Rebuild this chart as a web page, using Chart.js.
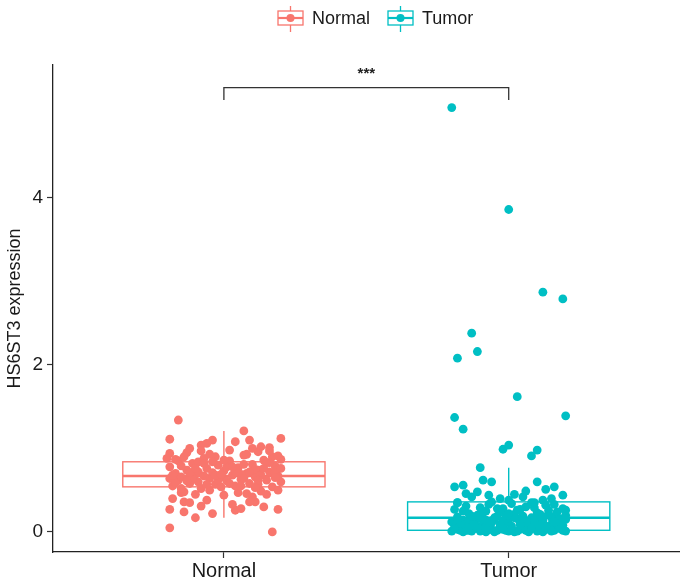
<!DOCTYPE html>
<html>
<head>
<meta charset="utf-8">
<script src="https://cdn.jsdelivr.net/npm/chart.js@4.4.1/dist/chart.umd.min.js"></script>
<style>
  body { margin: 0; background: #fff; }
  #wrap { width: 684px; height: 585px; }
</style>
</head>
<body>
<div id="wrap"><canvas id="chart" width="684" height="585"></canvas></div>
<script>
// categories and colours
const groups = ['Normal', 'Tumor'];
const groupColors = ['#F8766D', '#00BFC4'];
const yTicks = [0, 2, 4];

// box statistics: [Normal, Tumor]
const boxLow = [0.17, 0.0];
const boxQ1 = [0.54, 0.02];
const boxMedian = [0.67, 0.17];
const boxQ3 = [0.84, 0.36];
const boxHigh = [1.21, 0.77];

// significance bracket
const bracketY = 5.32;
const bracketTip = 5.17;
const bracketLabel = '***';

// jittered points (offset from category centre, expression value)
const normalJitter = [-0.16,-0.19,0.07,0.09,0.20,-0.04,-0.08,0.13,0.16,-0.19,0.20,-0.19,-0.19,0.17,0.19,-0.04,0.04,-0.10,-0.14,-0.14,0.11,-0.15,
  -0.19,-0.17,-0.16,-0.18,-0.15,-0.13,-0.12,-0.14,-0.11,-0.10,-0.09,-0.08,-0.07,-0.06,-0.05,-0.04,-0.03,-0.02,-0.01,0.00,
  0.01,0.02,0.03,0.04,0.05,0.06,0.07,0.08,0.09,0.10,0.11,0.12,0.13,0.14,0.15,0.16,0.17,0.18,0.19,0.20,
  -0.19,-0.16,-0.13,-0.10,-0.08,-0.05,-0.03,0.00,0.02,0.05,0.08,0.10,0.12,0.15,0.17,0.19,
  -0.18,-0.12,-0.06,0.03,0.09,0.14,-0.14,-0.09,-0.04,0.01,0.06,0.11,0.16,
  -0.17,-0.11,-0.07,-0.02,0.04,0.07,0.13,0.18,-0.15,-0.01,0.12,
  -0.06,0.04,0.10,-0.12,0.16,-0.20,0.20,-0.08,0.06,
  -0.18,-0.15,-0.12,-0.09,-0.06,-0.03,0.00,0.03,0.06,0.09,0.12,0.15,0.18,
  -0.17,-0.13,-0.10,-0.05,-0.01,0.02,0.07,0.11,0.14,0.19,-0.07,0.08];
const normalExpr = [1.34,1.11,1.21,1.10,1.12,1.10,1.04,1.02,1.01,0.94,0.87,0.27,0.05,0.00,0.27,0.22,0.26,0.17,0.24,0.36,0.36,0.47,
  0.78,0.70,0.62,0.55,0.66,0.74,0.58,0.48,0.82,0.69,0.60,0.52,0.88,0.76,0.64,0.71,0.57,0.80,0.66,0.73,
  0.61,0.85,0.68,0.55,0.77,0.63,0.92,0.70,0.58,0.81,0.66,0.74,0.49,0.86,0.62,0.72,0.54,0.79,0.67,0.60,
  0.64,0.85,0.95,0.45,0.97,0.50,0.90,0.44,0.98,0.47,0.93,0.42,0.96,0.45,0.90,0.50,
  0.40,0.35,0.38,0.33,0.36,0.30,0.90,0.72,0.84,0.78,0.69,0.75,0.83,
  0.59,0.63,0.67,0.62,0.72,0.64,0.68,0.71,0.52,0.54,0.57,
  1.06,1.08,1.00,1.00,0.97,0.88,0.76,0.31,0.28,
  0.68,0.79,0.71,0.84,0.57,0.68,0.86,0.78,0.55,0.72,0.62,0.83,0.65,
  0.87,0.61,0.76,0.93,0.69,0.58,0.81,0.53,0.76,0.91,0.82,0.46];

const tumorJitter = [-0.20,0.00,0.12,0.19,-0.13,-0.18,-0.11,0.03,-0.19,-0.16,0.20,-0.02,0.00,0.08,0.10,
  -0.19,-0.16,-0.11,-0.13,-0.18,-0.10,-0.09,-0.06,0.06,0.10,0.13,0.16,0.19,0.12,0.09,0.20,-0.03,0.02,0.05,-0.15,0.15,-0.07,0.00,
  -0.20,-0.18,-0.16,-0.14,-0.12,-0.10,-0.08,-0.06,-0.04,-0.02,0.00,0.02,0.04,0.06,0.08,0.10,0.12,0.14,0.16,0.18,0.20,
  -0.19,-0.15,-0.11,-0.07,-0.03,0.01,0.05,0.09,0.13,0.17,0.19,-0.17,-0.13,-0.09,-0.05,-0.01,0.03,0.07,0.11,0.15,
  -0.18,-0.06,0.04,0.16,-0.10,0.08,-0.02,0.18,-0.14,
  -0.20,-0.18,-0.16,-0.14,-0.12,-0.10,-0.08,-0.06,-0.04,-0.02,0.00,0.02,0.04,0.06,0.08,0.10,0.12,0.14,0.16,0.18,0.20,
  -0.19,-0.15,-0.11,-0.07,-0.03,0.01,0.05,0.09,0.13,0.17,-0.17,-0.13,-0.09,-0.05,-0.01,0.03,0.07,0.11,0.15,0.19,
  -0.08,0.06,-0.14,0.12,
  -0.19,-0.17,-0.15,-0.13,-0.11,-0.09,-0.07,-0.05,-0.03,-0.01,0.01,0.03,0.05,0.07,0.09,0.11,0.13,0.15,0.17,0.19,
  -0.18,-0.14,-0.10,-0.06,-0.02,0.02,0.06,0.10,0.14,0.18,-0.16,-0.12,-0.08,-0.04,0.00,0.04,0.08,0.12,0.16,0.20];
const tumorExpr = [5.08,3.86,2.87,2.79,2.38,2.08,2.16,1.62,1.37,1.23,1.39,0.99,1.04,0.91,0.98,
  0.54,0.56,0.48,0.42,0.35,0.77,0.62,0.60,0.49,0.60,0.51,0.54,0.44,0.38,0.35,0.26,0.40,0.45,0.42,0.46,0.40,0.44,0.38,
  0.12,0.18,0.14,0.22,0.11,0.16,0.25,0.13,0.19,0.28,0.15,0.21,0.12,0.30,0.17,0.23,0.14,0.26,0.18,0.12,0.20,
  0.27,0.31,0.20,0.33,0.24,0.34,0.19,0.29,0.32,0.24,0.28,0.10,0.15,0.09,0.17,0.11,0.16,0.10,0.13,0.09,
  0.35,0.36,0.27,0.33,0.29,0.35,0.13,0.16,0.14,
  0.01,0.03,0.00,0.02,0.04,0.01,0.00,0.03,0.02,0.05,0.01,0.00,0.03,0.02,0.04,0.01,0.00,0.03,0.02,0.05,0.01,
  0.06,0.07,0.06,0.08,0.06,0.07,0.06,0.08,0.07,0.06,0.02,0.01,0.03,0.00,0.02,0.01,0.00,0.03,0.01,0.02,
  0.05,0.05,0.09,0.10,
  0.04,0.11,0.02,0.19,0.06,0.23,0.03,0.15,0.09,0.20,0.04,0.26,0.10,0.05,0.14,0.21,0.06,0.17,0.10,0.08,
  0.15,0.05,0.20,0.11,0.03,0.17,0.12,0.07,0.22,0.04,0.25,0.08,0.14,0.28,0.22,0.09,0.05,0.18,0.12,0.15];

const FONT = '"Liberation Sans", Arial, sans-serif';
const BOX_HALF = 0.355;

// boxes go under the points, like ggplot
const boxPlugin = {
  id: 'boxes',
  beforeDatasetsDraw(chart) {
    const { ctx, scales: { x, y } } = chart;
    ctx.save();
    groups.forEach((g, i) => {
      const cx = x.getPixelForValue(i + 1);
      const l = x.getPixelForValue(i + 1 - BOX_HALF);
      const r = x.getPixelForValue(i + 1 + BOX_HALF);
      const q1 = y.getPixelForValue(boxQ1[i]);
      const q3 = y.getPixelForValue(boxQ3[i]);
      const md = y.getPixelForValue(boxMedian[i]);
      ctx.strokeStyle = groupColors[i];
      ctx.lineWidth = 1.4;
      ctx.beginPath();
      ctx.moveTo(cx, y.getPixelForValue(boxHigh[i]));
      ctx.lineTo(cx, q3);
      ctx.moveTo(cx, q1);
      ctx.lineTo(cx, y.getPixelForValue(boxLow[i]));
      ctx.stroke();
      ctx.fillStyle = '#fff';
      ctx.fillRect(l, q3, r - l, q1 - q3);
      ctx.strokeRect(l, q3, r - l, q1 - q3);
      ctx.lineWidth = 2.6;
      ctx.beginPath();
      ctx.moveTo(l, md);
      ctx.lineTo(r, md);
      ctx.stroke();
    });
    ctx.restore();
  }
};

// significance bracket, drawn through the scales
const bracketPlugin = {
  id: 'bracket',
  afterDatasetsDraw(chart) {
    const { ctx, scales: { x, y } } = chart;
    const x1 = x.getPixelForValue(1), x2 = x.getPixelForValue(2);
    const yb = y.getPixelForValue(bracketY), yt = y.getPixelForValue(bracketTip);
    ctx.save();
    ctx.strokeStyle = '#333';
    ctx.lineWidth = 1.3;
    ctx.beginPath();
    ctx.moveTo(x1, yt);
    ctx.lineTo(x1, yb);
    ctx.lineTo(x2, yb);
    ctx.lineTo(x2, yt);
    ctx.stroke();
    ctx.fillStyle = '#222';
    ctx.font = 'bold 15px ' + FONT;
    ctx.textAlign = 'center';
    ctx.textBaseline = 'middle';
    ctx.fillText(bracketLabel, (x1 + x2) / 2, yb - 14);
    ctx.restore();
  }
};

// ggplot style legend on top
const legendPlugin = {
  id: 'ggLegend',
  afterDraw(chart) {
    const { ctx } = chart;
    const keyX = [278, 388];
    ctx.save();
    ctx.font = '18px ' + FONT;
    ctx.textBaseline = 'middle';
    groups.forEach((g, i) => {
      const kx = keyX[i], cy = 18, cx = kx + 12.5;
      ctx.strokeStyle = groupColors[i];
      ctx.lineWidth = 1.3;
      ctx.beginPath();
      ctx.moveTo(cx, 6); ctx.lineTo(cx, 11);
      ctx.moveTo(cx, 25); ctx.lineTo(cx, 32);
      ctx.stroke();
      ctx.strokeRect(kx, 11, 25, 14);
      ctx.lineWidth = 2.2;
      ctx.beginPath();
      ctx.moveTo(kx, cy); ctx.lineTo(kx + 25, cy);
      ctx.stroke();
      ctx.fillStyle = groupColors[i];
      ctx.beginPath();
      ctx.arc(cx, cy, 4, 0, Math.PI * 2);
      ctx.fill();
      ctx.fillStyle = '#1a1a1a';
      ctx.fillText(g, kx + 34, cy + 1);
    });
    ctx.restore();
  }
};

const datasets = [
  { label: groups[0], data: normalJitter.map((j, k) => ({ x: 1 + j, y: normalExpr[k] })) },
  { label: groups[1], data: tumorJitter.map((j, k) => ({ x: 2 + j, y: tumorExpr[k] })) }
].map((d, i) => Object.assign(d, {
  backgroundColor: groupColors[i],
  borderWidth: 0,
  pointRadius: 4.4,
  pointHoverRadius: 4.4
}));

new Chart(document.getElementById('chart').getContext('2d'), {
  type: 'scatter',
  data: { datasets },
  plugins: [boxPlugin, bracketPlugin, legendPlugin],
  options: {
    responsive: false,
    animation: false,
    layout: { padding: { top: 65, right: 0, bottom: 0, left: 0 } },
    plugins: { legend: { display: false }, tooltip: { enabled: false } },
    scales: {
      x: {
        type: 'linear',
        min: 0.4,
        max: 2.6,
        afterBuildTicks: s => { s.ticks = groups.map((g, i) => ({ value: i + 1 })); },
        afterFit: s => { s.height = 33; },
        ticks: {
          callback: v => groups[v - 1],
          color: '#1a1a1a',
          font: { family: FONT, size: 20 },
          padding: 1,
          maxRotation: 0
        },
        grid: { drawOnChartArea: false, tickLength: 6, tickColor: '#333', tickWidth: 1.2 },
        border: { display: true, color: '#222', width: 1.3 }
      },
      y: {
        min: -0.24,
        max: 5.59,
        afterBuildTicks: s => { s.ticks = yTicks.map(v => ({ value: v })); },
        afterFit: s => { s.width = 53; },
        ticks: {
          color: '#1a1a1a',
          font: { family: FONT, size: 19 },
          padding: 4
        },
        title: {
          display: true,
          text: 'HS6ST3 expression',
          color: '#1a1a1a',
          font: { family: FONT, size: 18 },
          padding: { top: 4, bottom: 0 }
        },
        grid: { drawOnChartArea: false, tickLength: 6, tickColor: '#333', tickWidth: 1.2 },
        border: { display: true, color: '#222', width: 1.3 }
      }
    }
  }
});
</script>
</body>
</html>
